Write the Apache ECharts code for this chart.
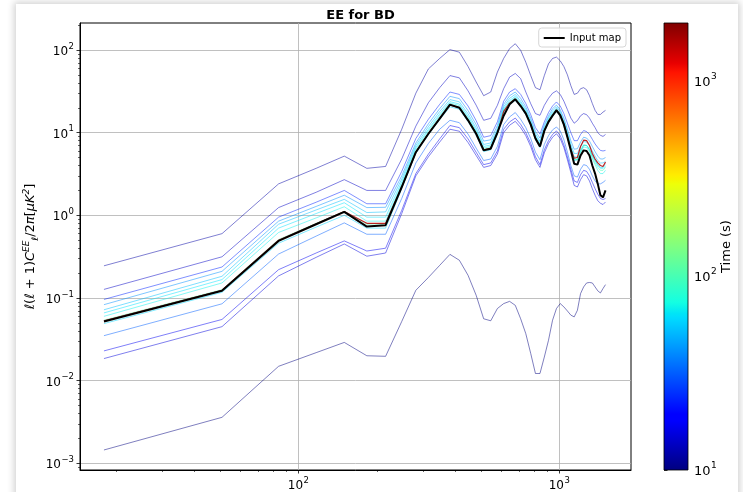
<!DOCTYPE html>
<html><head><meta charset="utf-8">
<script src="https://cdn.jsdelivr.net/npm/echarts@6/dist/echarts.min.js"></script>
<style>
html,body{margin:0;padding:0;background:#fff;overflow:hidden;width:743px;height:492px}
#card{position:absolute;left:16px;top:4px;width:722px;height:520px;background:#fff;box-shadow:0 0 7px 2px rgba(0,0,0,0.18);}
#chart{position:absolute;left:0;top:0;width:743px;height:492px;}
</style></head><body><div id="card"></div><div id="chart"></div>
<script>
// multipole bins
const ell = [18,51,84,117,150,183,216,249,282,315,348,381,414,447,480,513,546,579,612,645,678,711,744,777,810,843,876,909,942,975,1008,1041,1074,1107,1140,1173,1206,1239,1272,1305,1338,1371,1404,1437,1470,1503];
// Input map (black)
const inputMap = [0.052,0.122,0.49,0.78,1.10,0.73,0.76,2.2,5.8,9.7,14.8,21.8,20.0,14.1,9.7,6.1,6.4,10.0,16.0,22.0,25.3,21.0,17.0,12.5,8.5,6.8,10.5,13.5,16.0,18.6,16.2,12.5,8.8,6.1,4.2,4.1,5.3,6.1,6.0,5.3,4.0,3.2,2.4,1.75,1.65,2.0];
// spectra at increasing times
const run10 = [0.00145,0.0036,0.0149,0.0218,0.029,0.020,0.0197,0.052,0.124,0.177,0.248,0.337,0.286,0.188,0.108,0.056,0.053,0.0745,0.0855,0.091,0.0815,0.056,0.037,0.0213,0.0122,0.0122,0.0193,0.0308,0.0538,0.0745,0.0855,0.078,0.0696,0.062,0.059,0.071,0.113,0.136,0.152,0.154,0.152,0.136,0.122,0.115,0.13,0.145];
const run12 = [0.245,0.6,2.4,3.7,5.2,3.7,3.9,11,30,59,79,101,94,63,41,28,31,54,79,104,119,99,71,49,35,33,49,68,79,82,74,63,50,37,29,30,34,35,33,28,22.5,18.6,16.6,16.6,17.7,18.6];
const run14 = [0.127,0.315,1.24,1.9,2.7,2.0,2.0,4.8,12,23,35,49,46,32,21.5,14.1,14.9,21.4,34,47,52,45,31,22.4,17,16.2,21.4,26,30,32,29,24,19,15,13,14,16,17,16.5,15,13,11.5,10,9.3,9,9.5];
const run16 = [0.0185,0.045,0.185,0.31,0.45,0.32,0.35,1.05,3.0,5.1,7.7,11.0,10.4,7.6,5.3,3.8,4.0,5.5,10,12.3,13.7,11.5,9.2,6.8,4.7,3.8,5.7,7.4,8.8,9.7,8.5,6.6,4.7,3.3,2.3,2.2,2.7,3.1,3.0,2.6,2.1,1.75,1.5,1.4,1.35,1.45];
const run18 = [0.0229,0.055,0.22,0.35,0.49,0.37,0.40,1.15,3.2,5.5,8.4,12.2,11.5,8.4,5.8,4.1,4.3,6.0,11,13.5,15,12.6,10,7.4,5.1,4.1,6.2,8.0,9.5,10.5,9.2,7.1,5.1,3.6,2.6,2.5,3.1,3.5,3.4,3.0,2.5,2.1,1.8,1.6,1.55,1.6];
const run22 = [0.096,0.237,0.95,1.44,2.0,1.38,1.38,3.4,8.5,14.5,22,31,29,21,14,8.8,9.2,13.5,24,31,34,29,22.5,16.5,11.5,9.6,13.5,17.5,21,23.5,21,17,13,10,8,8,9.5,10.6,10.3,9.5,8.3,7.3,6.6,6.1,6.0,6.1];
const run30 = [0.035,0.085,0.34,0.56,0.81,0.59,0.59,1.6,4.3,7.4,11,14.1,13.2,9.6,6.5,4.6,4.8,6.8,12.5,15.5,17.5,14.5,11.5,8.5,5.8,4.7,7.2,9.2,10.8,11.7,10.5,8.2,5.8,4.0,3.0,2.9,3.6,4.1,4.0,3.6,3.0,2.6,2.4,2.4,2.5,2.65];
const run40 = [0.083,0.21,0.85,1.28,1.75,1.24,1.25,3.0,7.5,12.8,19.5,27.5,25.8,18.5,12.5,7.9,8.2,12.2,22,28,31,26,20.5,15,10.4,8.6,12.5,16,19.5,21.5,19,15,11,8,6.3,6.4,7.7,8.8,8.6,7.9,6.8,5.9,5.2,4.8,4.8,5.0];
const run55 = [0.072,0.183,0.78,1.16,1.56,1.08,1.1,2.75,7.0,11.8,18,25.1,23.6,16.9,11.4,7.2,7.5,11.2,20.5,26,29,24,19.2,14,9.7,7.9,11.8,15.2,18.3,20.5,18,14,10.2,7.2,5.6,5.6,6.8,7.8,7.7,7.0,6.0,5.2,4.6,4.3,4.3,4.5];
const run70 = [0.066,0.167,0.70,1.05,1.42,0.95,0.95,2.55,6.6,11,16.8,23.7,22.2,15.8,10.7,6.8,7.1,10.6,19.5,24.5,27.5,23,18.3,13.4,9.2,7.5,11.2,14.5,17.4,19.6,17.2,13.3,9.6,6.8,5.1,5.1,6.2,7.1,7.0,6.3,5.3,4.6,4.0,3.7,3.7,3.9];
const run90 = [0.060,0.152,0.62,0.93,1.27,0.85,0.85,2.4,6.3,10.5,16,22.8,21.3,15.1,10.3,6.5,6.8,10.2,18.9,23.6,26.6,22.2,17.8,13.1,8.9,7.2,10.9,14.1,16.9,19.2,16.8,13,9.3,6.5,4.8,4.7,5.8,6.7,6.6,5.9,4.8,4.1,3.5,3.2,3.2,3.5];
const run120 = [0.049,0.117,0.46,0.72,1.0,0.70,0.70,2.1,5.6,9.4,14.3,20.5,19.2,13.6,9.3,5.9,6.2,9.4,17.5,21.8,24.6,20.4,16.5,12.1,8.2,6.6,10.2,13.2,15.6,18.1,15.8,12.2,8.7,6.2,4.6,4.7,5.9,7.0,7.0,6.2,5.2,4.6,4.1,3.8,3.8,4.1];
const run200 = [0.054,0.126,0.51,0.8,1.12,0.78,0.79,2.25,5.9,9.8,15,21.8,20.4,14.4,9.9,6.3,6.6,9.9,18.3,22.9,25.8,21.4,17.4,12.8,8.7,7.0,10.8,13.9,16.4,19.0,16.6,12.9,9.2,6.4,4.7,4.7,6.0,7.1,7.0,6.2,5.0,4.3,3.8,3.5,3.5,3.8];
const run1800 = [0.053,0.124,0.50,0.79,1.11,0.80,0.80,2.2,5.8,9.7,14.8,21.5,20.1,14.2,9.8,6.2,6.5,9.8,18.1,22.7,25.5,21.2,17.2,12.7,8.6,6.9,10.7,13.7,16.3,18.8,16.5,12.8,9.0,6.3,4.9,5.0,6.8,8.1,8.0,7.0,5.6,4.8,4.3,4.0,3.9,4.4];
// axis ticks
const xMajor = [100,1000];
const xMinor = [20,30,40,50,60,70,80,90,200,300,400,500,600,700,800,900];
const yMajor = [0.001,0.01,0.1,1,10,100];
const yMinor = [0.0009,0.002,0.003,0.004,0.005,0.006,0.007,0.008,0.009,0.02,0.03,0.04,0.05,0.06,0.07,0.08,0.09,0.2,0.3,0.4,0.5,0.6,0.7,0.8,0.9,2,3,4,5,6,7,8,9,20,30,40,50,60,70,80,90,200];
const cbRange = [10,1973];
const cbMajor = [10,100,1000];
const cbMinor = [20,30,40,50,60,70,80,90,200,300,400,500,600,700,800,900];

const FONT = 'DejaVu Sans';
const G = {left:80, top:23, width:551, height:447};
const CB = {left:664, top:23, width:24, height:447};

function sci(v){
  const e = Math.round(Math.log10(v));
  return '{b|10}{s|' + (e < 0 ? '\u2212' + (-e) : e) + '}';
}
const rich = {
  b:{fontSize:12, fontFamily:FONT, color:'#000', lineHeight:16, verticalAlign:'bottom'},
  s:{fontSize:8.5, fontFamily:FONT, color:'#000', lineHeight:16, verticalAlign:'top', padding:[0,0,0,0.5]}
};

const runs = [
  {d:run10, c:'#000080'},
  {d:run12, c:'#0000a6'},
  {d:run14, c:'#0000c6'},
  {d:run16, c:'#0000de'},
  {d:run18, c:'#0000f4'},
  {d:run22, c:'#0022ff'},
  {d:run30, c:'#0060ff'},
  {d:run40, c:'#0090ff'},
  {d:run55, c:'#00c0ff'},
  {d:run70, c:'#00e4ff'},
  {d:run90, c:'#10f4ee'},
  {d:run120, c:'#00d8ff'},
  {d:run200, c:'#40ffb0'}
];
const mk = arr => ell.map((l, i) => [l, arr[i]]);

const series = runs.map((r, i) => ({
  type:'line', name:'run' + i, xAxisIndex:0, yAxisIndex:0, data:mk(r.d),
  showSymbol:false, symbol:'none', silent:true, animation:false,
  lineStyle:{color:r.c, width:1, opacity:0.5}, itemStyle:{color:r.c}, z:2
}));
series.push({
  type:'line', name:'run1800', xAxisIndex:0, yAxisIndex:0, data:mk(run1800),
  showSymbol:false, symbol:'none', silent:true, animation:false,
  lineStyle:{color:'#b00000', width:1.2, opacity:0.85}, itemStyle:{color:'#b00000'}, z:3
});
series.push({
  type:'line', name:'Input map', xAxisIndex:0, yAxisIndex:0, data:mk(inputMap),
  showSymbol:false, symbol:'none', silent:true, animation:false,
  lineStyle:{color:'#000', width:2}, itemStyle:{color:'#000'}, z:4
});
// colorbar
const jetStops = [
  {offset:0, color:'#800000'},
  {offset:0.09, color:'#e80000'},
  {offset:0.11, color:'#ff1300'},
  {offset:0.34, color:'#ffec00'},
  {offset:0.35, color:'#f7f500'},
  {offset:0.36, color:'#eeff08'},
  {offset:0.5, color:'#80ff80'},
  {offset:0.625, color:'#14ffe2'},
  {offset:0.65, color:'#00e5f7'},
  {offset:0.66, color:'#00dbff'},
  {offset:0.875, color:'#0000ff'},
  {offset:0.89, color:'#0000ff'},
  {offset:1, color:'#000080'}
];
series.push({
  type:'custom', xAxisIndex:2, yAxisIndex:2, silent:true, animation:false, clip:false,
  data:[[0, cbRange[0], 1, cbRange[1]]],
  renderItem:(params, api) => {
    const p0 = api.coord([api.value(0), api.value(3)]);
    const p1 = api.coord([api.value(2), api.value(1)]);
    return {type:'rect', shape:{x:p0[0], y:p0[1], width:p1[0]-p0[0], height:p1[1]-p0[1]},
      style:{fill:new echarts.graphic.LinearGradient(0,0,0,1,jetStops)}};
  }
});

const axisBase = {
  axisLine:{show:false}, axisLabel:{show:false}, splitLine:{show:false}
};

const option = {
  backgroundColor:'transparent',
  animation:false,
  title:{text:'EE for BD', left:355.5, top:4, textAlign:'center',
    textStyle:{fontFamily:FONT, fontSize:13, fontWeight:'bold', color:'#000'}},
  legend:{data:[{name:'Input map', icon:'rect'}], right:117, top:28, itemWidth:21, itemHeight:2,
    padding:[5,5,4,5], borderColor:'#d6d6d6', borderWidth:1, borderRadius:3,
    backgroundColor:'rgba(255,255,255,0.85)',
    textStyle:{fontFamily:FONT, fontSize:10, color:'#000'}},
  grid:[
    Object.assign({show:true, borderColor:'#000', borderWidth:1, backgroundColor:'transparent', containLabel:false}, G),
    Object.assign({show:false, containLabel:false}, G),
    Object.assign({show:true, borderColor:'#000', borderWidth:0.8, backgroundColor:'transparent', containLabel:false, z:5}, CB),
    Object.assign({show:false, containLabel:false}, CB)
  ],
  xAxis:[
    {type:'log', gridIndex:0, min:14.57, max:1882, position:'bottom',
      axisLine:{show:true, onZero:false, lineStyle:{color:'#000', width:1}},
      axisTick:{show:true, length:3.5, customValues:xMajor, lineStyle:{color:'#000', width:0.8}},
      axisLabel:{customValues:xMajor, formatter:sci, rich:rich, margin:6},
      splitLine:{show:true, lineStyle:{color:'#b0b0b0', width:0.8}}},
    Object.assign({type:'log', gridIndex:1, min:14.57, max:1882, position:'bottom',
      axisTick:{show:true, length:2, customValues:xMinor, lineStyle:{color:'#000', width:0.6}}}, axisBase),
    {type:'value', gridIndex:2, min:0, max:1, show:false},
    {type:'value', gridIndex:3, min:0, max:1, show:false}
  ],
  yAxis:[
    {type:'log', gridIndex:0, min:0.00083, max:212, position:'left',
      axisLine:{show:true, onZero:false, lineStyle:{color:'#000', width:1}},
      axisTick:{show:true, length:3.5, customValues:yMajor, lineStyle:{color:'#000', width:0.8}},
      axisLabel:{customValues:yMajor, formatter:sci, rich:rich, margin:6},
      splitLine:{show:true, lineStyle:{color:'#b0b0b0', width:0.8}},
      name:'{n|\u2113(\u2113 + 1)}{i|C}{sup|EE}{sub|\u2113}{n|/2}{i|\u03c0}{n|[}{i|\u03bcK}{sup|2}{n|]}',
      nameLocation:'middle', nameGap:40, nameRotate:90, nameMoveOverlap:false,
      nameTextStyle:{fontFamily:FONT, fontSize:13, color:'#000', rich:{
        n:{fontFamily:FONT, fontSize:13, color:'#000', lineHeight:18, verticalAlign:'middle'},
        i:{fontFamily:FONT, fontSize:13, fontStyle:'italic', color:'#000', lineHeight:18, verticalAlign:'middle'},
        sup:{fontFamily:FONT, fontSize:9, fontStyle:'italic', color:'#000', lineHeight:18, verticalAlign:'top'},
        sub:{fontFamily:FONT, fontSize:9, fontStyle:'italic', color:'#000', lineHeight:18, verticalAlign:'bottom'}
      }}},
    Object.assign({type:'log', gridIndex:1, min:0.00083, max:212, position:'left',
      axisTick:{show:true, length:2, customValues:yMinor, lineStyle:{color:'#000', width:0.6}}}, axisBase),
    {type:'log', gridIndex:2, min:cbRange[0], max:cbRange[1], position:'right',
      axisLine:{show:false},
      axisTick:{show:true, length:3.5, customValues:cbMajor, lineStyle:{color:'#000', width:0.8}},
      axisLabel:{customValues:cbMajor, formatter:sci, rich:{
        b:{fontSize:13, fontFamily:FONT, color:'#000', lineHeight:17, verticalAlign:'bottom'},
        s:{fontSize:9, fontFamily:FONT, color:'#000', lineHeight:17, verticalAlign:'top', padding:[0,0,0,0.5]}
      }, margin:6},
      splitLine:{show:false},
      name:'Time (s)', nameLocation:'middle', nameGap:32, nameRotate:90, nameMoveOverlap:false,
      nameTextStyle:{fontFamily:FONT, fontSize:13, color:'#000'}},
    Object.assign({type:'log', gridIndex:3, min:cbRange[0], max:cbRange[1], position:'right',
      axisTick:{show:true, length:2, customValues:cbMinor, lineStyle:{color:'#000', width:0.6}}}, axisBase)
  ],
  series:series
};
const chart = echarts.init(document.getElementById('chart'), null, {renderer:'canvas'});
chart.setOption(option);
</script>
</body></html>
